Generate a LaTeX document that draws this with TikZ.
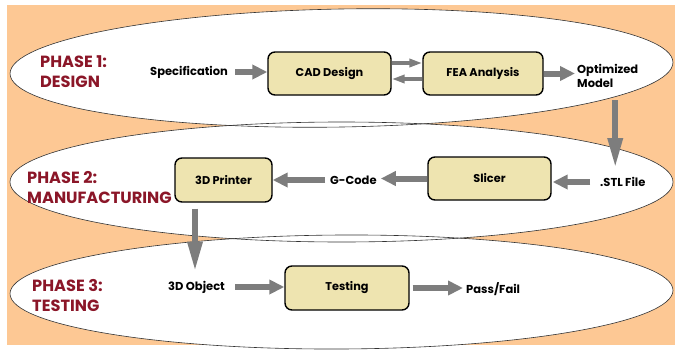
\documentclass[tikz,border=0pt]{standalone}
\usepackage{fontspec}
\setmainfont{Poppins}
\usetikzlibrary{arrows.meta}
\definecolor{phasebg}{RGB}{253,200,148}
\definecolor{boxfill}{RGB}{238,228,176}
\definecolor{phasered}{RGB}{139,22,40}
\definecolor{arrowgray}{RGB}{125,125,125}
\tikzset{
  stepbox/.style={draw=black, line width=1.4pt, fill=boxfill, rounded corners=7pt,
    minimum height=43pt, font=\bfseries\fontsize{11.3}{13}\selectfont},
  phaselabel/.style={text=phasered, anchor=west, align=left, inner sep=0pt,
    font=\bfseries\fontsize{16.2}{20}\selectfont},
  flowtext/.style={inner sep=0pt, align=left, font=\bfseries\fontsize{11.5}{14.5}\selectfont},
  fatarrow/.style={draw=arrowgray, line width=6pt, -{Triangle[width=14pt,length=15pt]}},
  thinarrow/.style={draw=arrowgray, line width=3.5pt, -{Triangle[width=8pt,length=13pt]}},
  downarrow/.style={draw=arrowgray, line width=6pt, -{Triangle[width=14pt,length=30pt]}}
}
\begin{document}
\begin{tikzpicture}[x=1pt,y=-1pt]
\useasboundingbox (0,0) rectangle (675,351);
\fill[phasebg] (7,5) rectangle (675,345);

% the three phases
\foreach \cy/\ry/\ang in {68/59/1, 182/60/0, 292/57/0.3}
{
	\fill[white, rotate around={\ang:(341.5,\cy)}] (341.5,\cy) ellipse [x radius=331.5, y radius=\ry];
}
\foreach \cy/\ry/\ang in {68/59/1, 182/60/0, 292/57/0.3}
{
	\draw[black!80, line width=0.6pt, rotate around={\ang:(341.5,\cy)}] (341.5,\cy) ellipse [x radius=331.5, y radius=\ry];
}

\node[phaselabel] (p1) at (40,72) {PHASE 1:\\DESIGN};
\node[phaselabel] (p2) at (27,188) {PHASE 2:\\MANUFACTURING};
\node[phaselabel] (p3) at (32,296) {PHASE 3:\\TESTING};

% phase 1
\node[flowtext, anchor=west] (spec) at (150,72) {Specification};
\node[stepbox, minimum width=123pt] (cad) at (329.5,73.5) {CAD Design};
\node[stepbox, minimum width=120pt] (fea) at (483,73.5) {FEA Analysis};
\node[flowtext, anchor=west] (opt) at (577,76) {Optimized\\Model};

% phase 2
\node[flowtext, anchor=west] (stl) at (600,182) {.STL File};
\node[stepbox, minimum width=123pt] (slicer) at (489.5,178.5) {Slicer};
\node[flowtext, anchor=west] (gcode) at (330,180) {G-Code};
\node[stepbox, minimum width=97pt, minimum height=44pt] (printer) at (223.5,180) {3D Printer};

% phase 3
\node[flowtext, anchor=west] (obj) at (168,287) {3D Object};
\node[stepbox, minimum width=124pt, minimum height=44pt] (testing) at (347,288) {Testing};
\node[flowtext, anchor=west] (pass) at (466,289) {Pass/Fail};

\draw[fatarrow, shorten <=7pt] (spec.east) -- (spec.east -| cad.west);
\draw[thinarrow] ([yshift=10.5pt]cad.east) -- ([yshift=10.5pt]cad.east -| fea.west);
\draw[thinarrow] ([yshift=-5.5pt]fea.west) -- ([yshift=-5.5pt]fea.west -| cad.east);
\draw[fatarrow, shorten >=2pt] (fea.east) -- (fea.east -| opt.west);
\draw[downarrow, shorten <=12pt, shorten >=9pt] ([xshift=7.5pt]opt.south) -- ([xshift=7.5pt]opt.south |- stl.north);
\draw[fatarrow, shorten <=10pt, shorten >=1pt] (stl.west) -- (stl.west -| slicer.east);
\draw[fatarrow, shorten >=4pt] (slicer.west) -- (slicer.west -| gcode.east);
\draw[fatarrow, shorten <=5pt] (gcode.west) -- (gcode.west -| printer.east);
\draw[downarrow, shorten <=6pt, shorten >=9pt] ([xshift=-28.5pt]printer.south) -- ([xshift=-28.5pt]printer.south |- obj.north);
\draw[fatarrow, shorten <=10pt] (obj.east) -- (obj.east -| testing.west);
\draw[fatarrow, shorten <=3pt, shorten >=3pt] (testing.east) -- (testing.east -| pass.west);
\end{tikzpicture}
\end{document}
